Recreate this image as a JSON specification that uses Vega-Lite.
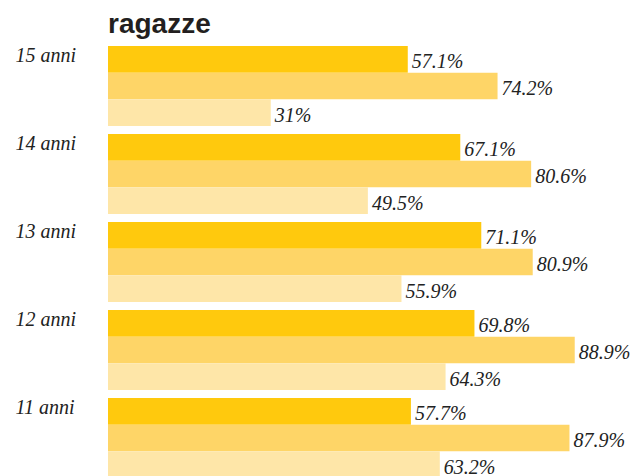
{
  "$schema": "https://vega.github.io/schema/vega-lite/v6.json",
  "autosize": "none",
  "width": 525,
  "height": 432,
  "padding": {"left": 108, "top": 46, "right": 6, "bottom": 0},
  "background": "white",
  "title": {"text": "ragazze", "anchor": "start", "frame": "group", "font": "Liberation Sans", "fontSize": 28, "fontWeight": "bold", "color": "#231f20", "offset": 7},
  "data": {"values": [
    {"eta": "15 anni", "serie": "A", "valore": 57.1},
    {"eta": "15 anni", "serie": "B", "valore": 74.2},
    {"eta": "15 anni", "serie": "C", "valore": 31},
    {"eta": "14 anni", "serie": "A", "valore": 67.1},
    {"eta": "14 anni", "serie": "B", "valore": 80.6},
    {"eta": "14 anni", "serie": "C", "valore": 49.5},
    {"eta": "13 anni", "serie": "A", "valore": 71.1},
    {"eta": "13 anni", "serie": "B", "valore": 80.9},
    {"eta": "13 anni", "serie": "C", "valore": 55.9},
    {"eta": "12 anni", "serie": "A", "valore": 69.8},
    {"eta": "12 anni", "serie": "B", "valore": 88.9},
    {"eta": "12 anni", "serie": "C", "valore": 64.3},
    {"eta": "11 anni", "serie": "A", "valore": 57.7},
    {"eta": "11 anni", "serie": "B", "valore": 87.9},
    {"eta": "11 anni", "serie": "C", "valore": 63.2}
  ]},
  "transform": [{"calculate": "datum.valore + '%'", "as": "etichetta"}],
  "encoding": {
    "y": {"field": "eta", "type": "nominal", "sort": null,
      "scale": {"paddingInner": 0.0909, "paddingOuter": 0},
      "axis": {"title": null, "domain": false, "ticks": false, "labelAlign": "left", "labelPadding": 93, "labelBaseline": "alphabetic", "labelOffset": -24, "labelFont": "Liberation Serif", "labelFontStyle": "italic", "labelFontSize": 20, "labelColor": "#222222"}},
    "yOffset": {"field": "serie", "type": "nominal", "sort": null},
    "x": {"field": "valore", "type": "quantitative", "scale": {"domain": [0, 100]}, "axis": null}
  },
  "layer": [
    {"mark": {"type": "bar"},
     "encoding": {"color": {"field": "serie", "type": "nominal", "sort": null, "scale": {"range": ["#FFC90D", "#FED567", "#FEE6A8"]}, "legend": null}}},
    {"mark": {"type": "text", "align": "left", "dx": 4, "dy": 9, "baseline": "alphabetic", "font": "Liberation Serif", "fontStyle": "italic", "fontSize": 20, "color": "#222222"},
     "encoding": {"text": {"field": "etichetta"}}}
  ],
  "config": {"view": {"stroke": null}}
}
